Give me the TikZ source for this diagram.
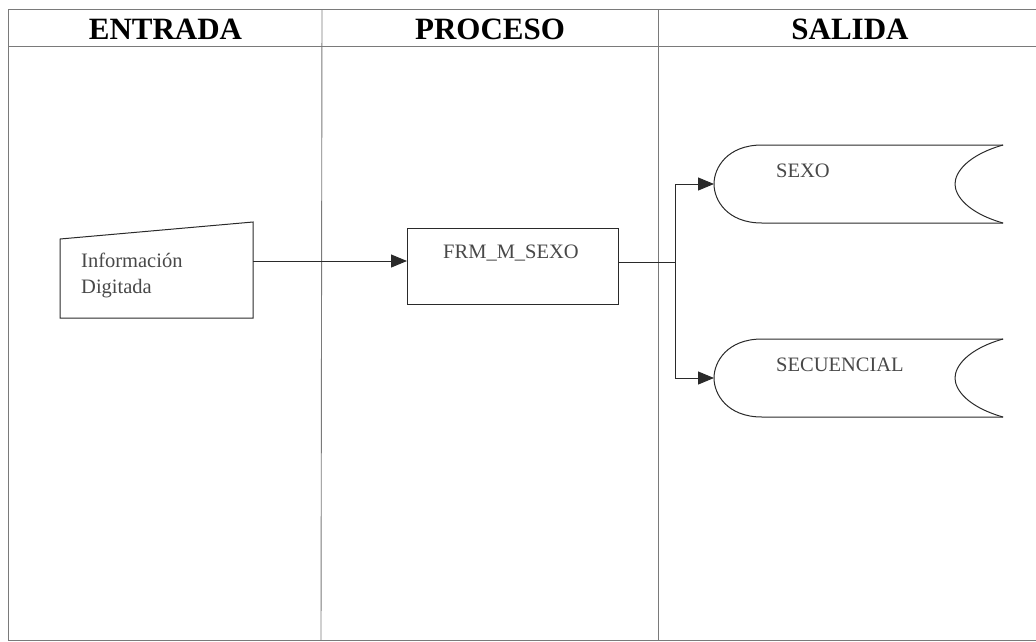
\documentclass[tikz,border=0pt]{standalone}
\usepackage{fontspec}
\setmainfont{Liberation Serif}
\usetikzlibrary{arrows.meta}
\definecolor{framec}{HTML}{7A7A7A}
\definecolor{linec}{HTML}{2A2A2A}
\definecolor{txtc}{HTML}{484848}
\tikzset{
  frameline/.style={draw=framec, line width=0.9pt},
  shapeline/.style={draw=linec, line width=1pt},
  head/.style={font=\fontsize{31}{33}\selectfont\bfseries, text=black, inner sep=0pt},
  lbl/.style={font=\fontsize{20.5}{22}\selectfont, text=txtc, inner sep=0pt, anchor=base west},
  conn/.style={draw=linec, line width=1pt},
  arr/.style={conn, -{Triangle[length=16pt,width=13pt]}}
}
\begin{document}
\begin{tikzpicture}[x=1pt,y=-1pt]
\useasboundingbox (0,0) rectangle (1036,641);
\begin{scope}
\clip (0,0) rectangle (1036,641);
% frame
\draw[frameline] (1045,9) -- (8,9) -- (8,640) -- (1045,640);
\draw[frameline] (8,46) -- (1045,46);
\draw[frameline] (322,9) -- (321,640);
\draw[frameline] (658,9) -- (658,640);
\end{scope}
% headers
\node[head] (h1) at (165.5,29) {ENTRADA};
\node[head] (h2) at (490,29) {PROCESO};
\node[head] (h3) at (850,29) {SALIDA};
% input shape
\draw[shapeline] (60,239) -- (253,222) -- (253,318) -- (60,318) -- cycle;
\coordinate (inR) at (253,261);
\node[lbl] (t1) at (81,267) {Información};
\node[lbl] (t2) at (81,293) {Digitada};
% process box
\node[shapeline, draw, minimum width=211pt, minimum height=76pt, inner sep=0pt] (proc) at (512.5,266) {};
\node[lbl] (t3) at (443,258) {FRM\_M\_SEXO};
\coordinate (pin) at (407,261);
\coordinate (pout) at (618,262);
\coordinate (split) at (675,262);
\coordinate (s1) at (675,184);
\coordinate (s2) at (675,378);
% storage 1
\draw[shapeline] (1003,145) -- (762,145) .. controls (727,145) and (714,168) .. (714,184) .. controls (714,200) and (727,223) .. (762,223) -- (1003,223);
\draw[shapeline] (1003,145) .. controls (968,155) and (955,172) .. (955,184) .. controls (955,196) and (968,213) .. (1003,223);
\coordinate (st1) at (714,184);
\node[lbl] (t4) at (776,177) {SEXO};
% storage 2
\draw[shapeline] (1003,339) -- (762,339) .. controls (727,339) and (714,362) .. (714,378) .. controls (714,394) and (727,417) .. (762,417) -- (1003,417);
\draw[shapeline] (1003,339) .. controls (968,349) and (955,366) .. (955,378) .. controls (955,390) and (968,407) .. (1003,417);
\coordinate (st2) at (714,378);
\node[lbl] (t5) at (776,371) {SECUENCIAL};
% connectors
\draw[arr] (inR) -- (pin);
\draw[conn] (pout) -- (split);
\draw[conn] (s1) -- (s2);
\draw[arr] (s1) -- (st1);
\draw[arr] (s2) -- (st2);
\end{tikzpicture}
\end{document}
